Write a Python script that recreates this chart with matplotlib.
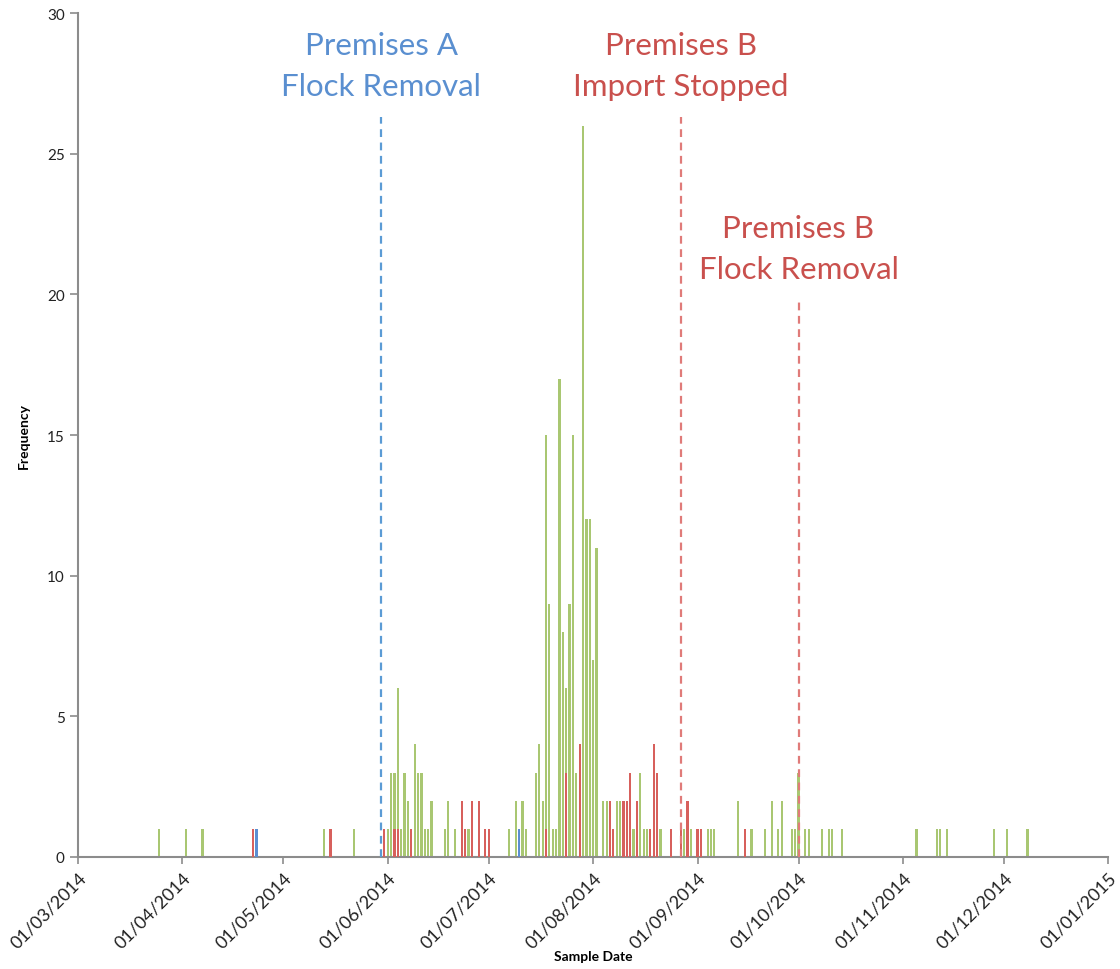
import numpy as np
import matplotlib
matplotlib.use("Agg")
import matplotlib.pyplot as plt
import matplotlib.dates as mdates

plt.rcParams['font.family'] = ['Lato', 'DejaVu Sans']

start = np.datetime64('2014-03-01')

# sample counts per day, day number counted from 01/03/2014
green_days = [24, 32, 37, 73, 82, 92, 93, 94, 95, 96, 97, 98, 100, 101, 102, 103, 104, 105,
              109, 110, 112, 116, 119, 128, 130, 132, 133, 136, 137, 138, 139, 140, 141, 142,
              143, 144, 145, 146, 147, 148, 149, 150, 151, 152, 153, 154, 156, 157, 158, 160,
              161, 162, 164, 165, 167, 168, 169, 173, 180, 182, 187, 188, 189, 196, 200, 204,
              206, 208, 209, 212, 213, 214, 216, 217, 221, 223, 224, 227, 249, 255, 256, 258,
              272, 276, 282]
green_counts = [1, 1, 1, 1, 1, 1, 3, 3, 6, 1, 3, 2, 4, 3, 3, 1, 1, 2,
                1, 2, 1, 1, 1, 1, 2, 2, 1, 3, 4, 2, 15, 9, 1, 1,
                17, 8, 6, 9, 15, 3, 2, 26, 12, 12, 7, 11, 2, 2, 2, 2,
                2, 1, 1, 1, 3, 1, 1, 1, 1, 1, 1, 1, 1, 2, 1, 1,
                2, 1, 2, 1, 1, 3, 1, 1, 1, 1, 1, 1, 1, 1, 1, 1,
                1, 1, 1]

red_days = [52, 75, 91, 94, 95, 99, 114, 115, 117, 119, 121, 122, 139, 145, 149, 158, 159,
            162, 163, 164, 166, 170, 171, 172, 176, 179, 181, 184, 185, 198]
red_counts = [1, 1, 1, 1, 1, 1, 2, 1, 2, 2, 1, 1, 1, 3, 4, 2, 1,
              2, 2, 3, 2, 1, 4, 3, 1, 1, 2, 1, 1, 1]

blue_days = [53, 131]
blue_counts = [1, 1]

# events marked on the timeline
events = [('Premises A\nFlock Removal', '2014-05-30', 26.3, '#5a8fd0', '#5b9bd5'),
          ('Premises B\nImport Stopped', '2014-08-27', 26.3, '#c9504d', '#e07b79'),
          ('Premises B\nFlock Removal', '2014-10-01', 19.8, '#c9504d', '#e07b79')]

fig = plt.figure(figsize=(11.2, 9.7), dpi=100)
ax = fig.add_axes([0.0696, 0.1155, 0.920, 0.870])

def to_dates(days):
    return start + np.array(days).astype('timedelta64[D]')

ax.bar(to_dates(green_days), green_counts, width=0.65, color='#a9c772', zorder=2)
ax.bar(to_dates(red_days), red_counts, width=0.65, color='#d7605c', zorder=3)
ax.bar(to_dates(blue_days), blue_counts, width=0.65, color='#5b8ed1', zorder=3)

for label, day, top, text_color, line_color in events:
    d = np.datetime64(day)
    ax.vlines(d, 0, top, colors=line_color, linestyles=(0, (3.5, 2.5)), linewidth=1.6, zorder=4)
    first, second = label.split('\n')
    ax.text(d, top + 2.55, first, ha='center', va='center', fontsize=22.5, color=text_color,
            clip_on=False)
    ax.text(d, top + 1.1, second, ha='center', va='center', fontsize=22.5, color=text_color,
            clip_on=False)

ax.set_xlim(np.datetime64('2014-03-01'), np.datetime64('2015-01-01'))
ax.set_ylim(0, 30)
ax.set_yticks(range(0, 31, 5))
ax.xaxis.set_major_locator(mdates.MonthLocator(bymonthday=1))
ax.xaxis.set_major_formatter(mdates.DateFormatter('%d/%m/%Y'))
plt.setp(ax.get_xticklabels(), rotation=45, ha='right', rotation_mode='anchor')

for side in ['top', 'right']:
    ax.spines[side].set_visible(False)
for side in ['left', 'bottom']:
    ax.spines[side].set_color('#8c8c8c')
    ax.spines[side].set_linewidth(1.5)
ax.tick_params(axis='x', colors='#8c8c8c', labelcolor='#222222', labelsize=13, length=5, width=1.2)
ax.tick_params(axis='y', colors='#8c8c8c', labelcolor='#222222', labelsize=11, length=6, width=1.2)

ax.set_xlabel('Sample Date', fontsize=10, fontweight='bold', labelpad=0)
ax.set_ylabel('Frequency', fontsize=10, fontweight='bold', labelpad=12)

fig.savefig('out.png', dpi=100)
